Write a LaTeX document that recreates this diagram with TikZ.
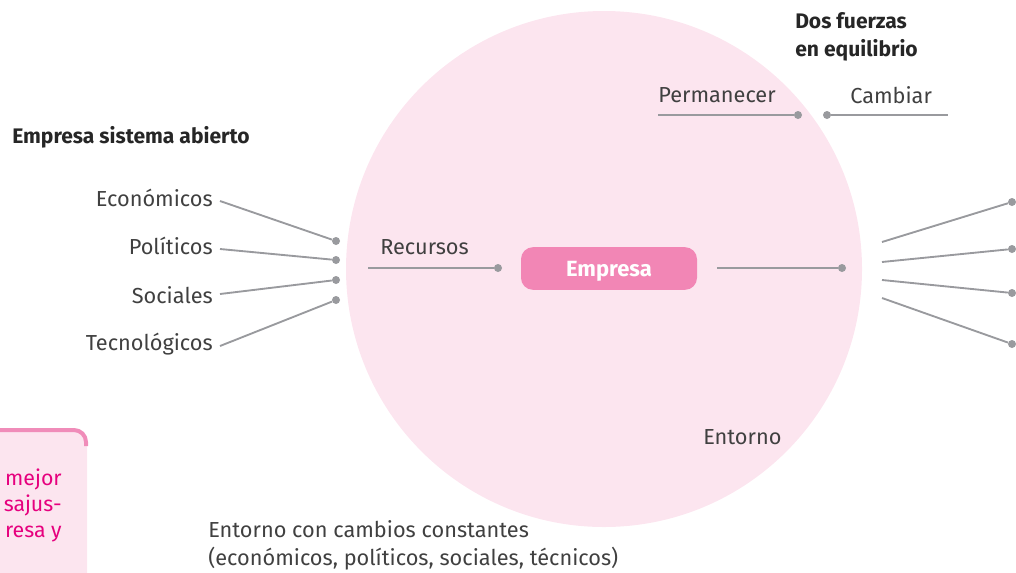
\documentclass[tikz,border=0pt]{standalone}
\usepackage{fontspec}
\setmainfont{Fira Sans}
\definecolor{circlepink}{HTML}{FCE5EF}
\definecolor{boxpink}{HTML}{F286B5}
\definecolor{edgepink}{HTML}{F08CB9}
\definecolor{txtgray}{HTML}{404040}
\definecolor{linegray}{HTML}{999A9E}
\definecolor{magtext}{HTML}{E6007E}
\begin{document}
\begin{tikzpicture}[x=0.75pt,y=-0.75pt,
  lbl/.style={font=\fontsize{16.3}{18}\selectfont, text=txtgray, inner sep=0pt},
  head/.style={font=\fontsize{15.8}{21}\selectfont\bfseries, text=black!85, inner sep=0pt, align=left},
  conn/.style={draw=linegray, line width=1.4pt},
  dotn/.style={circle, fill=linegray, inner sep=0pt, minimum size=6pt},
  side/.style={font=\fontsize{16}{18}\selectfont, text=magtext, inner sep=0pt}]
\useasboundingbox (0,0) rectangle (1016,572);
\begin{scope}
\clip (0,0) rectangle (1016,572);
% big circle
\fill[circlepink] (604,269) circle[radius=193.5pt];
% side box bottom-left
\fill[circlepink, rounded corners=9pt] (-10,430) rectangle (87,600);
\draw[edgepink, line width=3pt, rounded corners=9pt] (-10,430) -- (86,430) -- (86,446);
\node[side, anchor=east] (s1) at (62,479) {mejor};
\node[side, anchor=east] (s2) at (62,505) {sajus-};
\node[side, anchor=east] (s3) at (62,534) {resa y};
\end{scope}

% headings
\node[head, anchor=west] (abierto) at (12,137) {Empresa sistema abierto};
\node[head, anchor=north west] (fuerzas) at (795,12) {Dos fuerzas\\en equilibrio};

% Permanecer / Cambiar
\node[lbl, anchor=west] (perm) at (658,95) {Permanecer};
\node[lbl, anchor=west] (camb) at (850,95) {Cambiar};
\coordinate (permL) at (658,115);
\node[dotn] (permD) at (798,115) {};
\node[dotn] (cambD) at (827,115) {};
\coordinate (cambR) at (948,115);
\draw[conn] (permL) -- (permD);
\draw[conn] (cambD) -- (cambR);

% left labels
\node[lbl, anchor=east] (eco) at (213,198) {Económicos};
\node[lbl, anchor=east] (pol) at (213,246) {Políticos};
\node[lbl, anchor=east] (soc) at (213,295) {Sociales};
\node[lbl, anchor=east] (tec) at (213,344) {Tecnológicos};
\coordinate (ecoS) at (220,201);
\coordinate (polS) at (220,249);
\coordinate (socS) at (220,294);
\coordinate (tecS) at (220,346);
\node[dotn] (ecoD) at (336,241) {};
\node[dotn] (polD) at (336,260) {};
\node[dotn] (socD) at (336,280) {};
\node[dotn] (tecD) at (336,300) {};
\draw[conn] (ecoS) -- (ecoD);
\draw[conn] (polS) -- (polD);
\draw[conn] (socS) -- (socD);
\draw[conn] (tecS) -- (tecD);

% Recursos
\node[lbl, anchor=west] (rec) at (380,247) {Recursos};
\coordinate (recL) at (368,268);
\node[dotn] (recD) at (498,268) {};
\draw[conn] (recL) -- (recD);

% Empresa
\node[fill=boxpink, rounded corners=9pt, minimum width=132pt, minimum height=32pt,
      text=white, font=\fontsize{16.5}{18}\selectfont\bfseries, inner sep=0pt,
      text height=11.5pt, text depth=0pt] (emp) at (609,268.5) {Empresa};
\coordinate (empR) at (717,268);
\node[dotn] (empD) at (842,268) {};
\draw[conn] (empR) -- (empD);

% right fan
\coordinate (r1) at (882,242);
\coordinate (r2) at (882,262);
\coordinate (r3) at (882,280);
\coordinate (r4) at (882,298);
\node[dotn] (r1D) at (1012,202) {};
\node[dotn] (r2D) at (1012,249) {};
\node[dotn] (r3D) at (1012,293) {};
\node[dotn] (r4D) at (1012,344) {};
\draw[conn] (r1) -- (r1D);
\draw[conn] (r2) -- (r2D);
\draw[conn] (r3) -- (r3D);
\draw[conn] (r4) -- (r4D);

% Entorno
\node[lbl, anchor=west] (ent) at (703,437) {Entorno};
\node[lbl, anchor=north west, align=left, font=\fontsize{16.3}{21}\selectfont] (entc) at (208,520) {Entorno con cambios constantes\\(económicos, políticos, sociales, técnicos)};
\end{tikzpicture}
\end{document}
